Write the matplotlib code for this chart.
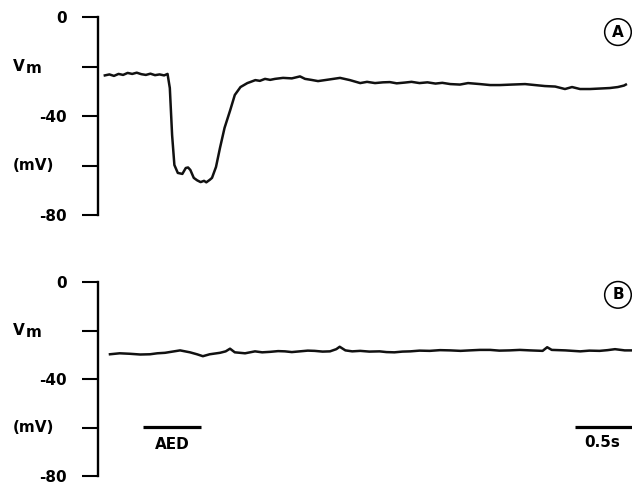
import matplotlib
matplotlib.use('Agg')
import matplotlib.pyplot as plt
from matplotlib.transforms import blended_transform_factory

# trace A: membrane potential during AED (time in s, Vm in mV)
t_a = [0.06, 0.10, 0.14, 0.18, 0.22, 0.26, 0.30, 0.34, 0.38, 0.42, 0.46, 0.50, 0.54, 0.58, 0.61,
       0.63, 0.65, 0.67, 0.70, 0.74, 0.77, 0.79, 0.81, 0.84, 0.87, 0.90, 0.93, 0.95, 0.98, 1.00,
       1.035, 1.07, 1.11, 1.16, 1.20, 1.25, 1.28, 1.31, 1.34, 1.38, 1.42, 1.465, 1.51, 1.553,
       1.623, 1.70, 1.772, 1.816, 1.87, 1.93, 2.035, 2.123, 2.21, 2.30, 2.36, 2.43, 2.50, 2.56,
       2.62, 2.69, 2.75, 2.82, 2.89, 2.96, 3.02, 3.09, 3.175, 3.246, 3.35, 3.44, 3.526, 3.63,
       3.746, 3.833, 3.92, 4.01, 4.096, 4.158, 4.228, 4.316, 4.404, 4.49, 4.56, 4.614, 4.63]
v_a = [-23.6, -23.2, -23.8, -23.0, -23.4, -22.6, -23.0, -22.5, -23.1, -23.4, -22.9, -23.5, -23.2, -23.6, -23.0,
       -28.7, -47.7, -59.8, -63.0, -63.4, -61.0, -60.8, -61.8, -65.0, -66.0, -66.7, -66.2, -66.8, -65.8, -65.0,
       -60.6, -52.9, -44.8, -37.6, -31.5, -28.3, -27.5, -26.7, -26.2, -25.5, -25.8, -25.0, -25.4, -25.0,
       -24.6, -24.8, -24.0, -25.0, -25.4, -25.9, -25.2, -24.6, -25.5, -26.7, -26.2, -26.7, -26.4, -26.3,
       -26.8, -26.5, -26.2, -26.7, -26.4, -26.9, -26.6, -27.1, -27.3, -26.7, -27.1, -27.5, -27.5, -27.3,
       -27.1, -27.5, -27.9, -28.1, -29.1, -28.3, -29.1, -29.1, -28.9, -28.7, -28.3, -27.7, -27.3]

# trace B: control
t_b = [0.105, 0.19, 0.28, 0.37, 0.456, 0.52, 0.588, 0.72, 0.807, 0.868, 0.92, 0.98, 1.07, 1.12,
       1.158, 1.20, 1.29, 1.377, 1.44, 1.51, 1.58, 1.64, 1.70, 1.77, 1.84, 1.90, 1.97, 2.035,
       2.09, 2.12, 2.17, 2.23, 2.30, 2.38, 2.47, 2.53, 2.60, 2.67, 2.74, 2.82, 2.91, 3.00, 3.09,
       3.18, 3.26, 3.35, 3.44, 3.52, 3.61, 3.70, 3.79, 3.90, 3.94, 3.98, 4.10, 4.23, 4.31, 4.40,
       4.47, 4.535, 4.62, 4.684]
v_b = [-29.8, -29.4, -29.6, -29.9, -29.8, -29.4, -29.2, -28.2, -29.0, -29.8, -30.6, -29.8, -29.2, -28.6,
       -27.5, -29.0, -29.4, -28.6, -29.0, -28.8, -28.5, -28.6, -28.9, -28.6, -28.3, -28.4, -28.7, -28.6,
       -27.7, -26.7, -28.2, -28.6, -28.4, -28.7, -28.6, -28.9, -29.0, -28.7, -28.6, -28.3, -28.4, -28.1, -28.2,
       -28.4, -28.2, -28.0, -28.0, -28.3, -28.2, -28.0, -28.2, -28.4, -26.9, -28.0, -28.2, -28.6, -28.3, -28.4,
       -28.1, -27.7, -28.2, -28.2]

yticks = [0, -20, -40, -60, -80]
ytick_labels = ['0', '', '-40', '', '-80']
aed_bar = (0.395, 0.904)
scale_bar = (4.184, 4.684)
t_max = 4.684

plt.rcParams['font.family'] = 'DejaVu Sans'
plt.rcParams['font.weight'] = 'bold'
plt.rcParams['axes.unicode_minus'] = False

fig = plt.figure(figsize=(6.32, 4.84), dpi=100)
ax_a = fig.add_axes([98 / 632, 269 / 484, 534 / 632, 198 / 484])
ax_b = fig.add_axes([98 / 632, 8 / 484, 534 / 632, 194 / 484])

for ax in (ax_a, ax_b):
    ax.set_xlim(0, t_max)
    ax.set_ylim(-80, 0)
    for s in ('top', 'right', 'bottom'):
        ax.spines[s].set_visible(False)
    ax.spines['left'].set_linewidth(1.7)
    ax.set_xticks([])
    ax.set_yticks(yticks)
    ax.set_yticklabels(ytick_labels, fontsize=11, fontweight='bold')
    ax.tick_params(axis='y', length=11.5, width=1.5, pad=11, direction='out')
    tr = blended_transform_factory(fig.transFigure, ax.transData)
    ax.text(13 / 632, -20, 'V', transform=tr, fontsize=11, fontweight='bold',
            ha='left', va='center')
    ax.text(26 / 632, -20.8, 'm', transform=tr, fontsize=11, fontweight='bold',
            ha='left', va='center')
    ax.text(13 / 632, -60, '(mV)', transform=tr, fontsize=11, fontweight='bold',
            ha='left', va='center')

ax_a.plot(t_a, v_a, color='#111111', lw=1.8, solid_joinstyle='round')
ax_b.plot(t_b, v_b, color='#111111', lw=1.8, solid_joinstyle='round', clip_on=False)

# circled panel letters
circ = dict(boxstyle='circle,pad=0.38', fc='white', ec='black', lw=1.1)
ax_a.text(4.561, -6.1, 'A', fontsize=11, fontweight='bold', ha='center', va='center',
          bbox=circ, clip_on=False)
ax_b.text(4.561, -5.3, 'B', fontsize=11, fontweight='bold', ha='center', va='center',
          bbox=circ, clip_on=False)

# AED application bar and time scale bar
ax_b.plot(aed_bar, [-59.6, -59.6], color='black', lw=2.3, solid_capstyle='butt')
ax_b.text(sum(aed_bar) / 2, -66.9, 'AED', fontsize=11, fontweight='bold',
          ha='center', va='center')
ax_b.plot(scale_bar, [-59.9, -59.9], color='black', lw=2.3, solid_capstyle='butt',
          clip_on=False)
ax_b.text(4.42, -66.3, '0.5s', fontsize=11, fontweight='bold', ha='center', va='center')

fig.savefig('out.png', dpi=100)
